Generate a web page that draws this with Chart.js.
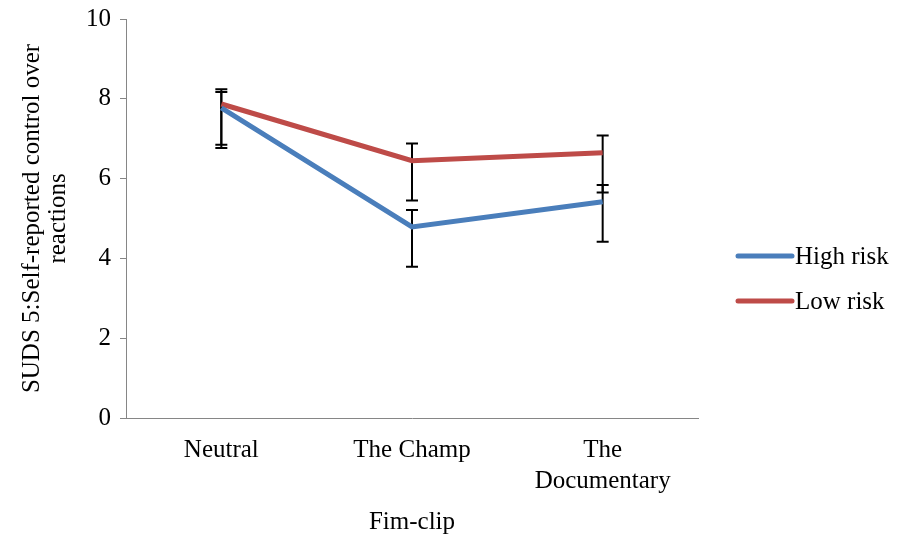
<!DOCTYPE html>
<html lang="en">
<head>
    <meta charset="UTF-8">
    <title>SUDS 5</title>
    <style>
        body { margin: 0; background: #ffffff; }
        .chart-box { position: relative; width: 898px; height: 534px; }
    </style>
    <script src="https://cdn.jsdelivr.net/npm/chart.js"></script>
</head>
<body>
    <div class="chart-box">
        <canvas id="sudsChart"></canvas>
    </div>

    <script>
        // Data
        const clips = ['Neutral', 'The Champ', ['The', 'Documentary']];
        const highRisk = [7.77, 4.79, 5.42];
        const lowRisk = [7.87, 6.45, 6.65];
        // error bar ends (lower / upper)
        const highLow = [6.77, 3.79, 4.42];
        const highHigh = [8.17, 5.21, 5.84];
        const lowLow = [6.85, 5.45, 5.65];
        const lowHigh = [8.24, 6.88, 7.08];
        const yTicks = [0, 2, 4, 6, 8, 10];

        const serif = "'Liberation Serif', 'Times New Roman', serif";
        const blue = '#4A7EBB';
        const red = '#BE4B48';

        // Error bars, drawn under the lines
        const errorBars = {
            id: 'errorBars',
            beforeDatasetsDraw(chart) {
                const ctx = chart.ctx;
                const x = chart.scales.x, y = chart.scales.y;
                const sets = [[highLow, highHigh], [lowLow, lowHigh]];
                ctx.save();
                ctx.strokeStyle = '#000000';
                ctx.lineWidth = 2;
                sets.forEach(([lo, hi]) => {
                    lo.forEach((v, i) => {
                        const px = x.getPixelForValue(i);
                        const y1 = y.getPixelForValue(v);
                        const y2 = y.getPixelForValue(hi[i]);
                        ctx.beginPath();
                        ctx.moveTo(px, y1); ctx.lineTo(px, y2);
                        ctx.moveTo(px - 6, y1); ctx.lineTo(px + 6, y1);
                        ctx.moveTo(px - 6, y2); ctx.lineTo(px + 6, y2);
                        ctx.stroke();
                    });
                });
                ctx.restore();
            }
        };

        // Legend on the right
        const sideLegend = {
            id: 'sideLegend',
            afterDraw(chart) {
                const ctx = chart.ctx;
                ctx.save();
                ctx.font = '25px ' + serif;
                ctx.textBaseline = 'middle';
                chart.data.datasets.forEach((ds, i) => {
                    const ly = 256 + i * 45;
                    ctx.strokeStyle = ds.borderColor;
                    ctx.lineWidth = 5;
                    ctx.lineCap = 'round';
                    ctx.beginPath();
                    ctx.moveTo(738, ly);
                    ctx.lineTo(792, ly);
                    ctx.stroke();
                    ctx.fillStyle = '#000000';
                    ctx.fillText(ds.label, 795, ly + 1);
                });
                ctx.restore();
            }
        };

        new Chart(document.getElementById('sudsChart'), {
            type: 'line',
            data: {
                labels: clips,
                datasets: [
                    { label: 'High risk', data: highRisk, borderColor: blue, backgroundColor: blue,
                      borderWidth: 5, pointRadius: 0, tension: 0 },
                    { label: 'Low risk', data: lowRisk, borderColor: red, backgroundColor: red,
                      borderWidth: 5, pointRadius: 0, tension: 0 }
                ]
            },
            options: {
                responsive: true,
                maintainAspectRatio: false,
                animation: false,
                layout: { autoPadding: false, padding: { left: 0, top: 19, right: 200, bottom: 0 } },
                plugins: {
                    legend: { display: false },
                    tooltip: { enabled: false }
                },
                scales: {
                    x: {
                        offset: true,
                        grid: { display: false, offset: true },
                        border: { color: '#868686', width: 1 },
                        ticks: { color: '#000000', font: { family: serif, size: 25, lineHeight: 1.25 }, padding: 9, maxRotation: 0 },
                        title: { display: true, text: 'Fim-clip', color: '#000000',
                                 font: { family: serif, size: 25 }, padding: { top: 4, bottom: -3 } },
                        afterFit: s => { s.height = 116; }
                    },
                    y: {
                        min: 0,
                        max: 10,
                        afterBuildTicks: s => { s.ticks = yTicks.map(v => ({ value: v })); },
                        grid: { drawOnChartArea: false, tickLength: 6, color: '#868686' },
                        border: { color: '#868686', width: 1 },
                        ticks: { color: '#000000', font: { family: serif, size: 25 }, padding: 9 },
                        title: { display: true, text: ['SUDS 5:Self-reported control over', 'reactions'],
                                 color: '#000000', font: { family: serif, size: 25, lineHeight: 1.05 },
                                 padding: { top: 19, bottom: 2 } },
                        afterFit: s => {
                            s.width = 126;
                            s.paddingTop = 0;
                            s.paddingBottom = 0;
                        }
                    }
                }
            },
            plugins: [errorBars, sideLegend]
        });
    </script>
</body>
</html>
